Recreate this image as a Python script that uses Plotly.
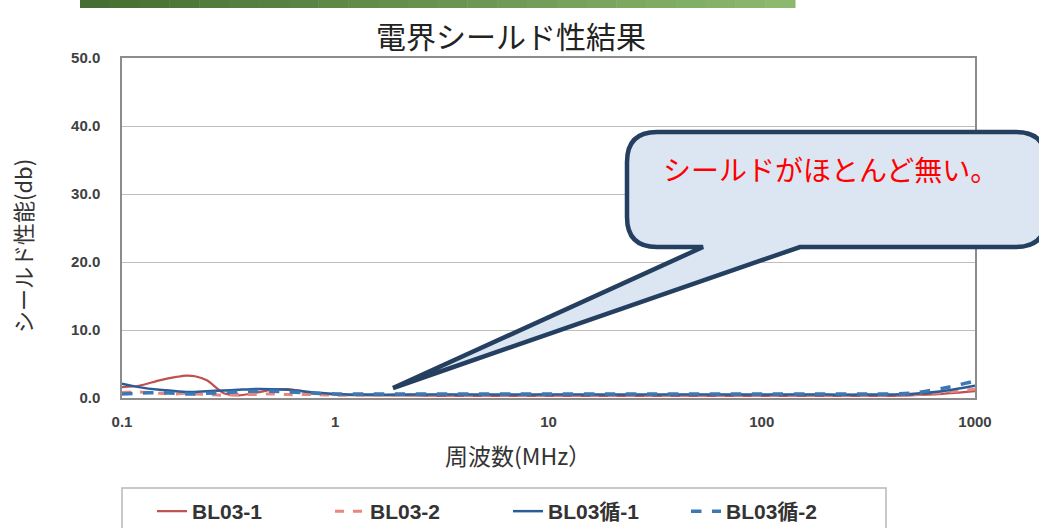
import plotly.graph_objects as go

# ---- data ----
freq_mhz = [0.1, 0.12, 0.15, 0.18, 0.2, 0.22, 0.25, 0.3, 0.35, 0.4, 0.5, 0.6, 0.7, 0.8,
            1, 1.5, 2, 3, 5, 7, 10, 20, 30, 50, 70, 100, 200, 300, 500, 700, 1000]
bl03_1 = [1.6, 1.8, 2.6, 3.1, 3.3, 3.2, 2.6, 0.7, 0.4, 0.6, 1.2, 1.3, 1.0, 0.7,
          0.5, 0.4, 0.4, 0.3, 0.3, 0.3, 0.3, 0.3, 0.3, 0.3, 0.3, 0.3, 0.3, 0.3, 0.4, 0.6, 1.0]
bl03_2 = [0.8, 0.9, 0.7, 0.6, 0.7, 0.6, 0.5, 0.4, 0.5, 0.5, 0.6, 0.5, 0.5, 0.5,
          0.4, 0.4, 0.4, 0.4, 0.4, 0.4, 0.4, 0.4, 0.4, 0.4, 0.4, 0.4, 0.4, 0.4, 0.5, 0.8, 1.3]
bl03j_1 = [2.1, 1.6, 1.2, 1.0, 0.9, 0.9, 1.0, 1.1, 1.2, 1.3, 1.3, 1.2, 1.0, 0.8,
           0.6, 0.5, 0.5, 0.5, 0.5, 0.5, 0.5, 0.5, 0.5, 0.5, 0.5, 0.5, 0.5, 0.5, 0.6, 1.0, 1.8]
bl03j_2 = [0.6, 0.7, 0.8, 0.7, 0.6, 0.6, 0.7, 0.8, 0.9, 1.0, 1.0, 0.9, 0.8, 0.7,
           0.6, 0.6, 0.6, 0.6, 0.6, 0.6, 0.6, 0.6, 0.6, 0.6, 0.6, 0.6, 0.6, 0.6, 0.7, 1.4, 2.5]
series_names = ["BL03-1", "BL03-2", "BL03循-1", "BL03循-2"]
x_ticks = [0.1, 1, 10, 100, 1000]
x_tick_text = ["0.1", "1", "10", "100", "1000"]
y_ticks = [0, 10, 20, 30, 40, 50]
title_text = "電界シールド性結果"
x_title = "周波数(MHz）"
y_title = "シールド性能(db)"
callout_text = "シールドがほとんど無い。"

W, H = 1039, 528
L, R, T, B = 122, 975, 58, 398  # plot area in px

def px(xp):
    return (xp - L) / (R - L)

def py(yp):
    return (B - yp) / (B - T)

styles = [
    dict(color="#c0504d", width=2.2, dash="solid"),
    dict(color="#e8877e", width=3, dash="dash"),
    dict(color="#2b5c97", width=2.5, dash="solid"),
    dict(color="#3d78b5", width=3.5, dash="dash"),
]

fig = go.Figure()
for name, vals, st in zip(series_names, [bl03_1, bl03_2, bl03j_1, bl03j_2], styles):
    fig.add_trace(go.Scatter(x=freq_mhz, y=vals, name=name, mode="lines",
                             line=dict(shape="spline", smoothing=0.8, **st)))

tickfont = dict(family="Liberation Sans, Arial", size=15, color="#404040", weight="bold")

fig.update_layout(
    width=W, height=H,
    margin=dict(l=L, r=W - R, t=T, b=H - B, autoexpand=False),
    paper_bgcolor="white", plot_bgcolor="white",
    showlegend=True,
    legend=dict(orientation="h", x=px(152), xanchor="left", y=py(491), yanchor="top",
                borderwidth=0, bgcolor="rgba(0,0,0,0)",
                font=dict(family="Liberation Sans, Noto Sans CJK JP", size=21, color="#333333", weight="bold"),
                itemwidth=30, entrywidth=133, entrywidthmode="pixels", traceorder="normal"),
    xaxis=dict(type="log", range=[-1, 3], tickvals=x_ticks, ticktext=x_tick_text,
               showgrid=False, showline=True, linecolor="#8c8c8c", linewidth=1.5, mirror=True,
               ticks="", tickfont=tickfont, ticklabelstandoff=9, zeroline=False),
    yaxis=dict(range=[0, 50], tickvals=y_ticks, tickformat=".1f",
               showgrid=True, gridcolor="#bdbdbd", gridwidth=1.2,
               showline=True, linecolor="#8c8c8c", linewidth=1.5, mirror=True,
               ticks="", tickfont=tickfont, ticklabelstandoff=17, zeroline=False),
)

# legend frame
fig.add_shape(type="rect", xref="paper", yref="paper",
              x0=px(122), x1=px(886), y0=py(488), y1=py(540),
              line=dict(color="#b8b8b8", width=1.5), fillcolor="rgba(0,0,0,0)", layer="below")

# decorative green header bar (gradient approximation)
n = 24
x0b, x1b = 80, 795
c0 = (70, 110, 50)
c1 = (140, 185, 110)
for i in range(n):
    t = i / (n - 1)
    col = "rgb(%d,%d,%d)" % tuple(int(a + (b - a) * t) for a, b in zip(c0, c1))
    xa = x0b + (x1b - x0b) * i / n
    xb = x0b + (x1b - x0b) * (i + 1) / n + 0.5
    fig.add_shape(type="rect", xref="paper", yref="paper",
                  x0=px(xa), x1=px(xb), y0=py(0), y1=py(8),
                  line=dict(width=0), fillcolor=col, layer="above")

# callout shape
bl, br, bt, bb, r = 627, 1046, 132, 247, 30
tail_l, tail_r, tip = 703, 800, (393, 388)
def P(x, y):
    return "%.5f,%.5f" % (px(x), py(y))
path = (
    "M " + P(bl + r, bt) +
    " L " + P(br - r, bt) +
    " Q " + P(br, bt) + " " + P(br, bt + r) +
    " L " + P(br, bb - r) +
    " Q " + P(br, bb) + " " + P(br - r, bb) +
    " L " + P(tail_r, bb) +
    " L " + P(tip[0], tip[1]) +
    " L " + P(tail_l, bb) +
    " L " + P(bl + r, bb) +
    " Q " + P(bl, bb) + " " + P(bl, bb - r) +
    " L " + P(bl, bt + r) +
    " Q " + P(bl, bt) + " " + P(bl + r, bt) + " Z"
)
fig.add_shape(type="path", xref="paper", yref="paper", path=path,
              fillcolor="#dce6f2", line=dict(color="#243f60", width=4.5), layer="above")

cjk = "Noto Sans CJK JP"
fig.add_annotation(x=px(830), y=py(169), xref="paper", yref="paper", text=callout_text,
                   showarrow=False, font=dict(family=cjk, size=28, color="#ff0000"),
                   xanchor="center", yanchor="middle")
fig.add_annotation(x=px(511), y=py(35), xref="paper", yref="paper", text=title_text,
                   showarrow=False, font=dict(family=cjk, size=30, color="#222222"),
                   xanchor="center", yanchor="middle")
fig.add_annotation(x=px(518), y=py(455), xref="paper", yref="paper", text=x_title,
                   showarrow=False, font=dict(family=cjk, size=23, color="#333333"),
                   xanchor="center", yanchor="middle")
fig.add_annotation(x=px(22), y=py(246), xref="paper", yref="paper", text=y_title,
                   showarrow=False, textangle=-90, font=dict(family=cjk, size=22, color="#333333"),
                   xanchor="center", yanchor="middle")

fig.write_html("out.html")
